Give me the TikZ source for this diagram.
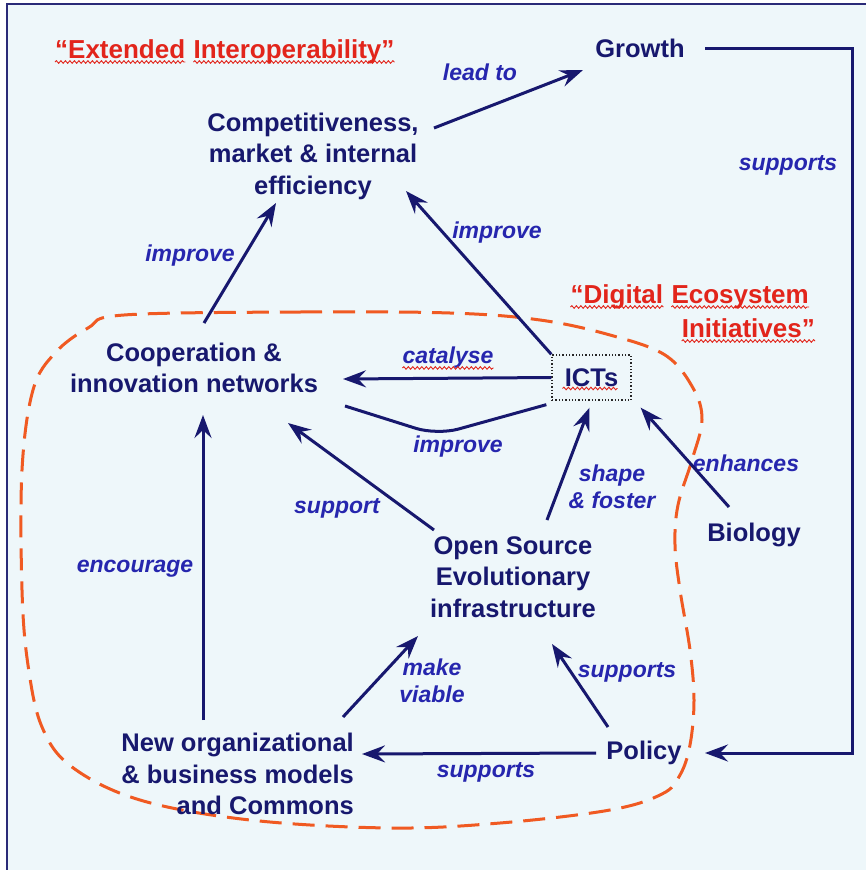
\documentclass[tikz,border=0pt]{standalone}
\usepackage{fontspec}
\setmainfont{Liberation Sans}
\usetikzlibrary{arrows.meta,calc,decorations.pathmorphing}

\definecolor{navy}{HTML}{17186E}
\definecolor{lblue}{HTML}{2626AE}
\definecolor{redtxt}{HTML}{E2251B}
\definecolor{dashorange}{HTML}{F05A22}
\definecolor{bg}{HTML}{EEF7FA}
\definecolor{framec}{HTML}{2A2A78}

\begin{document}
\begin{tikzpicture}[x=1pt,y=-1pt,
  main/.style={text=navy, font=\bfseries\fontsize{25.5}{31.5}\selectfont, inner sep=0pt, align=center},
  lbl/.style={text=lblue, font=\bfseries\itshape\fontsize{23}{26.5}\selectfont, inner sep=0pt, align=center},
  redword/.style={text=redtxt, font=\bfseries\fontsize{26}{33}\selectfont, inner sep=0pt},
  arr/.style={draw=navy, line width=3pt, -{Stealth[length=23pt,width=17pt,inset=8pt]}},
  link/.style={draw=navy, line width=3pt},
  zone/.style={draw=dashorange, line width=3pt, dash pattern=on 22pt off 11pt},
  ictbox/.style={draw=black!85, line width=1.3pt, dash pattern=on 1.3pt off 2pt, minimum width=79pt, minimum height=45pt},
  squig/.style={draw=redtxt, line width=0.9pt, decorate, decoration={snake, segment length=4.5pt, amplitude=1.3pt}}
]
\useasboundingbox (0,0) rectangle (866,870);
\clip (0,0) rectangle (866,870);
\fill[white] (0,0) rectangle (866,870);
\fill[bg] (7,4) rectangle (880,880);
\draw[framec, line width=2pt] (7,880) -- (7,4) -- (880,4);

% digital ecosystem zone
\draw[zone] plot[smooth cycle, tension=0.6] coordinates {
  (124,315) (300,312) (450,313) (540,320) (610,335) (665,355) (693,388)
  (702,420) (692,460) (678,505) (675,545) (680,590) (690,650) (694,700)
  (690,745) (680,775) (662,794) (610,810) (500,823) (390,828) (250,820)
  (140,800) (72,767) (42,727) (28,665) (22,590) (22,470) (33,390)
  (55,353) (88,328)};

% headings
\node[redword, anchor=base west] (ext1) at (55,58) {“Extended};
\node[redword, anchor=base west] (ext2) at ([shift={(8,0)}]ext1.base east) {Interoperability”};
\node[redword, anchor=base east] (dei2) at (809,303) {Ecosystem};
\node[redword, anchor=base east] (dei1) at ([shift={(-8,0)}]dei2.base west) {“Digital};
\node[redword, anchor=base east] (dei3) at (815,337) {Initiatives”};
\foreach \w in {ext1,ext2,dei1,dei2,dei3}
  \draw[squig] ([shift={(0,4)}]\w.base west) -- ([shift={(0,4)}]\w.base east);

% concepts
\node[main] (growth) at (640,48) {Growth};
\node[main] (comp) at (313,156) {Competitiveness,\\market \& internal\\efficiency};
\node[main] (coop) at (194,368) {Cooperation \&\\innovation networks};
\node[main, ictbox] (icts) at (591.5,377.5) {ICTs};
\draw[squig] ([shift={(-29,11)}]icts.center) -- ([shift={(26,11)}]icts.center);
\node[main] (os) at (513,577) {Open Source\\Evolutionary\\infrastructure};
\node[main] (bio) at (754,535) {Biology};
\node[main, align=right, anchor=east] (neworg) at (354,774) {New organizational\\\& business models\\and Commons};
\node[main] (policy) at (644,753) {Policy};

% relation labels
\node[lbl] (l-leadto) at (480,72) {lead to};
\node[lbl] (l-supG) at (788,165) {supports};
\node[lbl] (l-impA) at (190,256) {improve};
\node[lbl] (l-impB) at (497,233) {improve};
\node[lbl] (l-cat) at (448,358) {catalyse};
\draw[squig] ([shift={(0,4)}]l-cat.base west) -- ([shift={(0,4)}]l-cat.base east);
\node[lbl] (l-impC) at (458,447) {improve};
\node[lbl] (l-sup) at (337,508) {support};
\node[lbl] (l-shape) at (612,487) {shape\\\& foster};
\node[lbl] (l-enh) at (746,463) {enhances};
\node[lbl] (l-enc) at (135,569) {encourage};
\node[lbl] (l-mv) at (432,681) {make\\viable};
\node[lbl] (l-supO) at (627,672) {supports};
\node[lbl] (l-supN) at (486,772) {supports};

% relations
\draw[arr] ([shift={(121,-28)}]comp.center) -- ([shift={(-57,22)}]growth.center);
\draw[arr] ([shift={(65,0)}]growth.center) -- ++(147,0) |- ([shift={(61,0)}]policy.center);
\draw[arr] ([shift={(10,-45)}]coop.center) -- ([shift={(-37,47)}]comp.center);
\draw[arr] (icts.north west) -- ([shift={(93,35)}]comp.center);
\draw[arr] (icts.west) -- ([shift={(149,11)}]coop.center);
\draw[link, rounded corners=22pt] ([shift={(-5,4)}]icts.south west) -- ([shift={(243,67)}]coop.center) -- ([shift={(151,38)}]coop.center);
\draw[arr] ([shift={(-79,-47)}]os.center) -- ([shift={(94,55)}]coop.center);
\draw[arr] ([shift={(34,-57)}]os.center) -- ([shift={(-2,7)}]icts.south);
\draw[arr] ([shift={(-25,-28)}]bio.center) -- ([shift={(9,7)}]icts.south east);
\draw[arr] ([shift={(-151,-54)}]neworg.east) -- ([shift={(9,47)}]coop.center);
\draw[arr] ([shift={(-11,-57)}]neworg.east) -- ([shift={(-95,59)}]os.center);
\draw[arr] ([shift={(-36,-26)}]policy.center) -- ([shift={(39,67)}]os.center);
\draw[arr] ([shift={(-48,0)}]policy.center) -- ([shift={(8,-20)}]neworg.east);
\end{tikzpicture}
\end{document}
